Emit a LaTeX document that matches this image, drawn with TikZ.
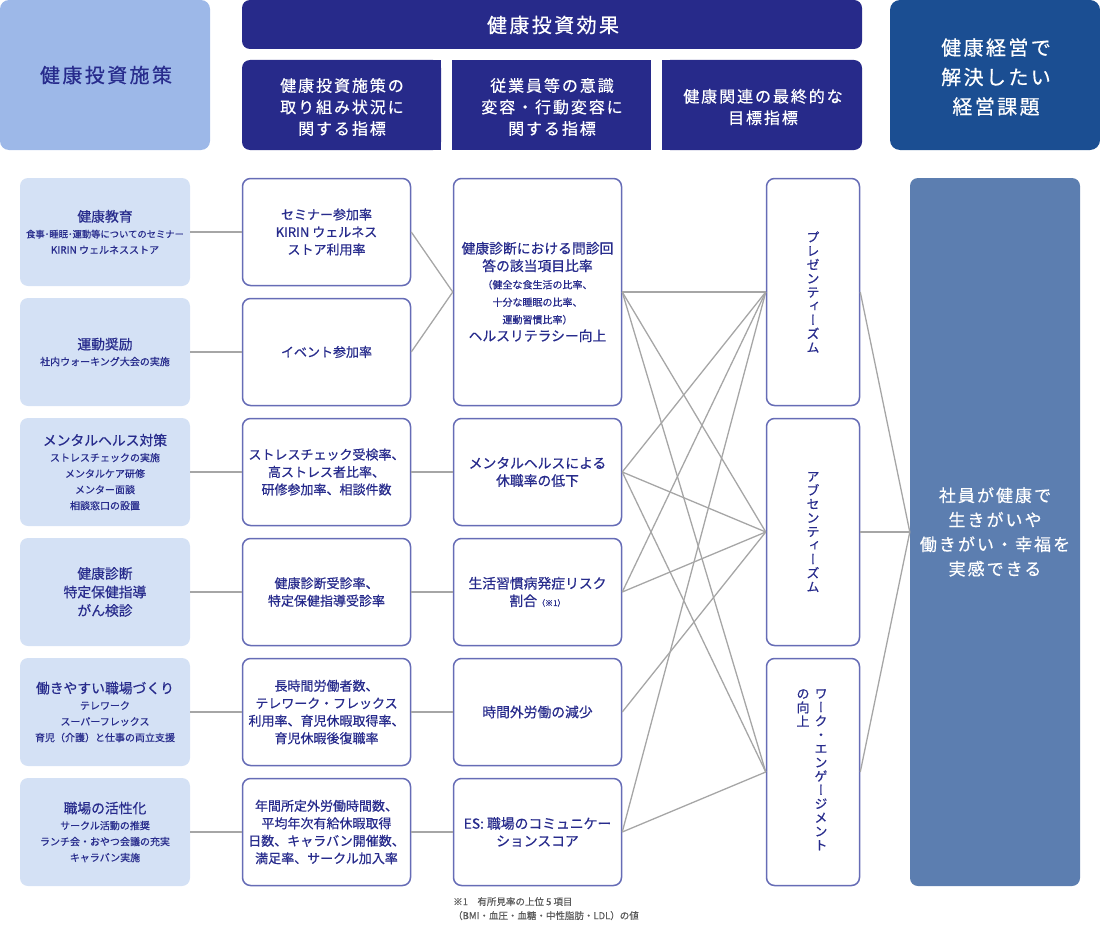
\documentclass[tikz,border=0pt]{standalone}
\usepackage{fontspec}
\setmainfont{Noto Sans CJK JP}[FakeBold=0.5]
\newfontfamily\jpwide[LetterSpace=12,FakeBold=0.5]{Noto Sans CJK JP}
\newfontfamily\jpvert[RawFeature=+vert,FakeBold=0.5]{Noto Sans CJK JP}

\definecolor{headnavy}{HTML}{272A8A}
\definecolor{headsteel}{HTML}{1B4E92}
\definecolor{headlight}{HTML}{9DB8E8}
\definecolor{policyfill}{HTML}{D4E1F5}
\definecolor{boxline}{HTML}{666CB6}
\definecolor{inktext}{HTML}{272B8C}
\definecolor{issuefill}{HTML}{5C7EB0}
\definecolor{linkgray}{HTML}{A6A6A6}
\definecolor{notegray}{HTML}{5A5A5A}

\newcommand{\ptitle}[1]{{\fontsize{13.8}{16}\selectfont #1}}

\tikzset{
  policy/.style={fill=policyfill, rounded corners=8pt, minimum width=170pt, minimum height=108pt,
    text=inktext, align=center, inner sep=0pt, font=\fontsize{10}{16}\selectfont},
  indicator/.style={draw=boxline, line width=1.5pt, fill=white, rounded corners=8pt,
    minimum width=168pt, minimum height=107pt, text=inktext, align=center, inner sep=0pt,
    font=\fontsize{13}{17.5}\selectfont},
  change/.style={indicator, font=\fontsize{13.8}{17.5}\selectfont},
  goal/.style={indicator, minimum width=93pt, minimum height=227pt},
  vtext/.style={text=inktext, align=center, inner sep=0pt, font=\jpvert\fontsize{13}{13.8}\selectfont},
  headtext/.style={text=white, align=center, inner sep=0pt},
  link/.style={draw=linkgray, line width=1.3pt},
}

\begin{document}
\begin{tikzpicture}[x=1pt,y=-1pt]
\useasboundingbox (0,0) rectangle (1100,934);

% headers
\fill[headlight, rounded corners=9pt] (0,0) rectangle (210,150);
\fill[headnavy, rounded corners=8pt] (242,0) rectangle (862,49);
\fill[headnavy, rounded corners=8pt] (242,60) rectangle (441,150);
\fill[headnavy] (320,60) rectangle (441,150);
\fill[headnavy] (452,60) rectangle (651,150);
\fill[headnavy, rounded corners=8pt] (662,60) rectangle (862,150);
\fill[headnavy] (662,60) rectangle (740,150);
\fill[headsteel, rounded corners=10pt] (890,0) rectangle (1100,150);

\node[text=inktext, inner sep=0pt, font=\jpwide\fontsize{20}{24}\selectfont] (hpolicy) at (106,75) {健康投資施策};
\node[headtext, font=\jpwide\fontsize{20}{24}\selectfont] (heffect) at (553,25) {健康投資効果};
\node[headtext, font=\jpwide\fontsize{16}{21.5}\selectfont] (hsub1) at (342,107) {健康投資施策の\\取り組み状況に\\関する指標};
\node[headtext, font=\jpwide\fontsize{16}{21.5}\selectfont] (hsub2) at (552,107) {従業員等の意識\\変容・行動変容に\\関する指標};
\node[headtext, font=\jpwide\fontsize{16}{21.5}\selectfont] (hsub3) at (763,107) {健康関連の最終的な\\目標指標};
\node[headtext, font=\jpwide\fontsize{20}{29.5}\selectfont] (hissue) at (996,77) {健康経営で\\解決したい\\経営課題};

% policies
\node[policy] (policy1) at (105,232) {\ptitle{健康教育}\\{\fontsize{9.3}{16}\selectfont 食事･睡眠･運動等についてのセミナー}\\KIRIN ウェルネスストア};
\node[policy] (policy2) at (105,352) {\ptitle{運動奨励}\\社内ウォーキング大会の実施};
\node[policy] (policy3) at (105,472) {\ptitle{メンタルヘルス対策}\\ストレスチェックの実施\\メンタルケア研修\\メンター面談\\相談窓口の設置};
\node[policy, font=\fontsize{13.8}{18.5}\selectfont] (policy4) at (105,592) {健康診断\\特定保健指導\\がん検診};
\node[policy] (policy5) at (105,712) {\ptitle{働きやすい職場づくり}\\テレワーク\\スーパーフレックス\\育児（介護）と仕事の両立支援};
\node[policy] (policy6) at (105,832) {\ptitle{職場の活性化}\\サークル活動の推奨\\ランチ会・おやつ会議の充実\\キャラバン実施};

% indicators of activity
\node[indicator] (act1) at (326.5,232) {セミナー参加率\\KIRIN ウェルネス\\ストア利用率};
\node[indicator] (act2) at (326.5,352) {イベント参加率};
\node[indicator] (act3) at (326.5,472) {ストレスチェック受検率、\\高ストレス者比率、\\研修参加率、相談件数};
\node[indicator] (act4) at (326.5,592) {健康診断受診率、\\特定保健指導受診率};
\node[indicator] (act5) at (326.5,712) {長時間労働者数、\\テレワーク・フレックス\\利用率、育児休暇取得率、\\育児休暇後復職率};
\node[indicator] (act6) at (326.5,832) {年間所定外労働時間数、\\平均年次有給休暇取得\\日数、キャラバン開催数、\\満足率、サークル加入率};

% indicators of change
\node[change, minimum height=227pt] (chg1) at (537.5,292) {健康診断における問診回\\答の該当項目比率\\{\fontsize{10}{16}\selectfont（健全な食生活の比率、}\\{\fontsize{10}{16}\selectfont 十分な睡眠の比率、}\\{\fontsize{10}{16}\selectfont 運動習慣比率）}\\ヘルスリテラシー向上};
\node[change] (chg2) at (537.5,472) {メンタルヘルスによる\\休職率の低下};
\node[change] (chg3) at (537.5,592) {生活習慣病発症リスク\\割合{\fontsize{8}{10}\selectfont （※1）}};
\node[change] (chg4) at (537.5,712) {時間外労働の減少};
\node[change] (chg5) at (537.5,832) {ES: 職場のコミュニケー\\ションスコア};

% final goals
\node[goal] (goal1) at (813,292) {};
\node[goal] (goal2) at (813,532) {};
\node[goal] (goal3) at (813,772) {};
\node[vtext] (goal1t) at (goal1.center) {プ\\レ\\ゼ\\ン\\テ\\ィ\\ー\\ズ\\ム};
\node[vtext] (goal2t) at (goal2.center) {ア\\ブ\\セ\\ン\\テ\\ィ\\ー\\ズ\\ム};
\node[vtext, anchor=north] (goal3a) at (821,689) {ワ\\ー\\ク\\・\\エ\\ン\\ゲ\\ー\\ジ\\メ\\ン\\ト};
\node[vtext, anchor=north] (goal3b) at (803,689) {の\\向\\上};

\node[fill=issuefill, rounded corners=8pt, minimum width=170pt, minimum height=708pt, text=white,
  align=center, inner sep=0pt, font=\jpwide\fontsize{17}{24.5}\selectfont] (issue) at (995,532)
  {社員が健康で\\生きがいや\\働きがい・幸福を\\実感できる};

\node[anchor=north west, align=left, inner sep=0pt, text=notegray, font=\fontsize{9.5}{14}\selectfont] (note) at (453,897)
  {※1　有所見率の上位 5 項目\\（BMI・血圧・血糖・中性脂肪・LDL）の値};

% connectors
\foreach \i in {1,...,6}
  \draw[link] (policy\i.east) -- (act\i.west);
\foreach \a/\c in {1/1,2/1,3/2,4/3,5/4,6/5}
  \draw[link] (act\a.east) -- (chg\c.west);
\foreach \c/\g in {1/1,1/2,1/3,2/1,2/2,2/3,3/1,3/2,4/2,5/1,5/3}
  \draw[link] (chg\c.east) -- (goal\g.west);
\foreach \g in {1,2,3}
  \draw[link] (goal\g.east) -- (issue.west);
\end{tikzpicture}
\end{document}
